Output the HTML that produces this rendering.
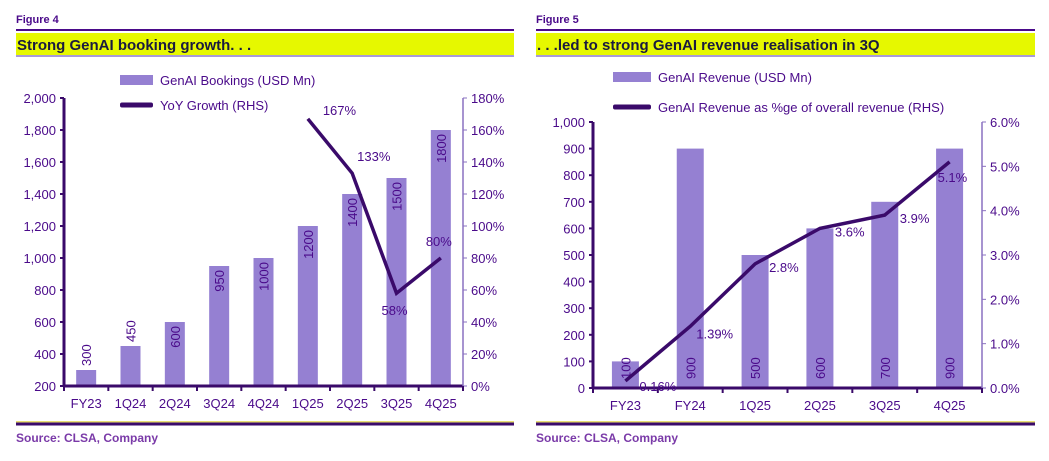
<!DOCTYPE html>
<html><head><meta charset="utf-8">
<style>
body{margin:0;background:#fff;width:1049px;height:456px;overflow:hidden;font-family:"Liberation Sans",sans-serif}
svg text{font-family:"Liberation Sans",sans-serif}
</style></head>
<body>
<svg id="s" width="1049" height="456"></svg>
<script>
const catsA=["FY23","1Q24","2Q24","3Q24","4Q24","1Q25","2Q25","3Q25","4Q25"];
const barsA=[300,450,600,950,1000,1200,1400,1500,1800];
const lineA=[null,null,null,null,null,167,133,58,80];
const leftTicksA=[200,400,600,800,1000,1200,1400,1600,1800,2000];
const rightTicksA=[0,20,40,60,80,100,120,140,160,180];
const catsB=["FY23","FY24","1Q25","2Q25","3Q25","4Q25"];
const barsB=[100,900,500,600,700,900];
const lineB=[0.16,1.39,2.8,3.6,3.9,5.1];
const lineLabelsB=["0.16%","1.39%","2.8%","3.6%","3.9%","5.1%"];
const leftTicksB=[0,100,200,300,400,500,600,700,800,900,1000];
const rightTicksB=[0,1,2,3,4,5,6];

const NS="http://www.w3.org/2000/svg";
const svg=document.getElementById('s');
const P="#4a0a8a", BAR="#9580d2", LINE="#3a0a6a";
function mk(tag,attrs,parent,txt){const e=document.createElementNS(NS,tag);for(const k in attrs)e.setAttribute(k,attrs[k]);if(txt!==undefined)e.textContent=txt;(parent||svg).appendChild(e);return e;}
function fmt(v){return v.toLocaleString('en-US');}

function frame(x0,x1,fig,title,g){
  let t=mk('text',{x:x0,y:23,'font-size':11,'font-weight':'bold',fill:P},g,fig);
  
  let l=mk('rect',{x:x0,y:29,width:x1-x0,height:2,fill:P},g);
  
  let y=mk('rect',{x:x0,y:33,width:x1-x0,height:22,fill:'#e6f800'},g);
  
  let y2=mk('rect',{x:x0,y:55,width:x1-x0,height:2,fill:'#a89ad8'},g);
  
  t=mk('text',{x:x0+1,y:50,'font-size':15,'font-weight':'bold',fill:'#1a1a40'},g,title);
  
  let b=mk('rect',{x:x0,y:421,width:x1-x0,height:1.5,fill:'#e8e070'},g);
  
  b=mk('rect',{x:x0,y:422.5,width:x1-x0,height:3,fill:'#3a0a6a'},g);
  
  t=mk('text',{x:x0,y:442,'font-size':12,'font-weight':'bold',fill:'#7a3aa8'},g,'Source: CLSA, Company');
  
}

function chart(cfg){
  const g=mk('g',{});
  
  
  frame(cfg.fx0,cfg.fx1,cfg.fig,cfg.title,g);
  const n=cfg.cats.length, cw=(cfg.x1-cfg.x0)/n;
  const yL=v=>cfg.yb-(v-cfg.lmin)/(cfg.lmax-cfg.lmin)*(cfg.yb-cfg.yt);
  const yR=v=>cfg.yb-(v-cfg.rmin)/(cfg.rmax-cfg.rmin)*(cfg.yb-cfg.yt);
  const xc=i=>cfg.x0+cw*(i+0.5);
  let r=mk('rect',{x:cfg.lgx,y:cfg.lgy1-5,width:cfg.lgw,height:10,fill:BAR},g);
  
  let t=mk('text',{x:cfg.lgx+cfg.lgw+7,y:cfg.lgy1+5,'font-size':13,fill:P},g,cfg.leg1);
  
  r=mk('rect',{x:cfg.lgx,y:cfg.lgy2-2.5,width:cfg.lgw,height:5,fill:LINE,rx:2},g);
  
  t=mk('text',{x:cfg.lgx+cfg.lgw+7,y:cfg.lgy2+5,'font-size':13,fill:P},g,cfg.leg2);
  
  cfg.bars.forEach((v,i)=>{
    const y=yL(v);
    const b=mk('rect',{x:xc(i)-cfg.bw/2,y:y,width:cfg.bw,height:cfg.yb-y,fill:BAR},g);
    
    
    let ty, anchor;
    if(cfg.labBase){ty=cfg.yb-9;anchor='start';}
    else{const inside=(cfg.yb-y)>40;ty=inside?y+4:y-4;anchor=inside?'end':'start';}
    const tx=xc(i)+5;
    const lab=mk('text',{x:tx,y:ty,'font-size':13,fill:P,'text-anchor':anchor,transform:`rotate(-90 ${tx} ${ty})`},g,String(v));
    
    
  });
  let a=mk('line',{x1:cfg.x0,y1:cfg.yt,x2:cfg.x0,y2:cfg.yb,stroke:LINE,'stroke-width':3},g);
  
  a=mk('line',{x1:cfg.x0,y1:cfg.yb,x2:cfg.x1,y2:cfg.yb,stroke:LINE,'stroke-width':3},g);
  
  a=mk('line',{x1:cfg.x1,y1:cfg.yt,x2:cfg.x1,y2:cfg.yb,stroke:'#8a70c0','stroke-width':1.5},g);
  
  cfg.lt.forEach(v=>{
    const y=yL(v);
    mk('line',{x1:cfg.x0-4,y1:y,x2:cfg.x0,y2:y,stroke:LINE,'stroke-width':2},g);
    const tt=mk('text',{x:cfg.x0-8,y:y+5,'font-size':13,fill:P,'text-anchor':'end'},g,fmt(v));
    
  });
  cfg.rt.forEach(v=>{
    const y=yR(v);
    mk('line',{x1:cfg.x1,y1:y,x2:cfg.x1+4,y2:y,stroke:'#8a70c0','stroke-width':1},g);
    const tt=mk('text',{x:cfg.x1+8,y:y+5,'font-size':13,fill:P},g,v.toFixed(cfg.rdec)+'%');
    
  });
  for(let i=0;i<=n;i++){const x=cfg.x0+cw*i;mk('line',{x1:x,y1:cfg.yb,x2:x,y2:cfg.yb+5,stroke:LINE,'stroke-width':2},g);}
  cfg.cats.forEach((c,i)=>{
    const tt=mk('text',{x:xc(i),y:cfg.yb+22,'font-size':13,fill:P,'text-anchor':'middle'},g,c);
    
  });
  const pts=[];
  cfg.line.forEach((v,i)=>{if(v!==null)pts.push([xc(i),yR(v),v,i]);});
  const pl=mk('polyline',{points:pts.map(p=>p[0]+','+p[1]).join(' '),fill:'none',stroke:LINE,'stroke-width':3.5,'stroke-linejoin':'miter'},g);
  
  pts.forEach((p,k)=>{
    const o=cfg.loff[k]||[6,-6];
    const tt=mk('text',{x:p[0]+o[0],y:p[1]+o[1],'font-size':13,fill:P},g,cfg.llab[p[3]]);
    
  });
}

chart({name:'booking-chart',fig:'Figure 4',title:'Strong GenAI booking growth. . .',fx0:16,fx1:514,
  cats:catsA,bars:barsA,line:lineA,lt:leftTicksA,rt:rightTicksA,rdec:0,
  x0:64,x1:463,yt:98,yb:386,lmin:200,lmax:2000,rmin:0,rmax:180,bw:20,labBase:false,
  lgx:120,lgy1:80,lgy2:105,lgw:33,leg1:'GenAI Bookings (USD Mn)',leg2:'YoY Growth (RHS)',
  llab:catsA.map((c,i)=>lineA[i]===null?'':lineA[i]+'%'),
  loff:[[15,-4],[5,-12],[-15,22],[-15,-12]]});
chart({name:'revenue-chart',fig:'Figure 5',title:'. . .led to strong GenAI revenue realisation in 3Q',fx0:536,fx1:1035,
  cats:catsB,bars:barsB,line:lineB,lt:leftTicksB,rt:rightTicksB,rdec:1,
  x0:593,x1:982,yt:122,yb:388,lmin:0,lmax:1000,rmin:0,rmax:6,bw:27,labBase:true,
  lgx:613,lgy1:77,lgy2:107,lgw:38,leg1:'GenAI Revenue (USD Mn)',leg2:'GenAI Revenue as %ge of overall revenue (RHS)',
  llab:lineLabelsB,
  loff:[[14,10],[6,12],[14,8],[15,8],[15,8],[-12,20]]});
</script>
</body></html>
